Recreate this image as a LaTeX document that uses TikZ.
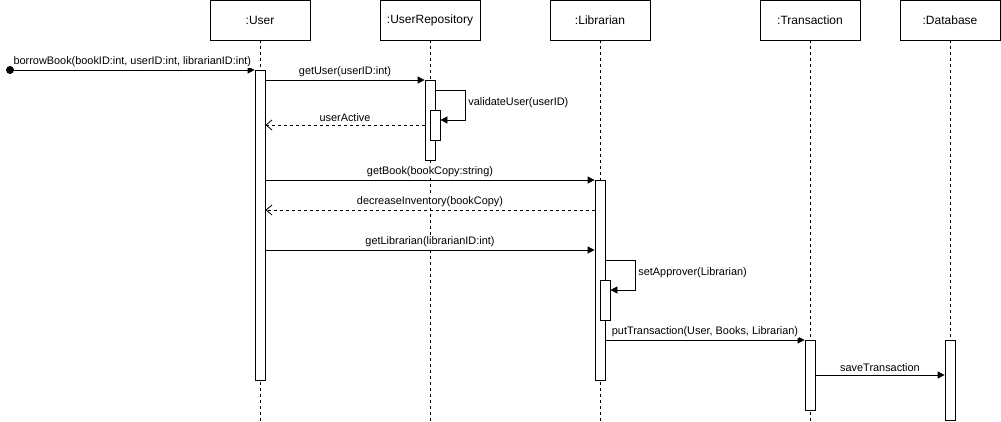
\documentclass[tikz,border=0pt]{standalone}
\usepackage{fontspec}
\setmainfont{Liberation Sans}
\usetikzlibrary{arrows.meta}
\begin{document}
\begin{tikzpicture}[x=1pt,y=-1pt,line width=0.8pt,
  head/.style={draw,fill=white,minimum width=100pt,minimum height=40pt,inner sep=0pt,font=\fontsize{12}{14}\selectfont},
  lifeline/.style={dash pattern=on 3pt off 3pt,line width=0.7pt},
  act/.style={draw,fill=white,minimum width=10pt,inner sep=0pt,anchor=north},
  sync/.style={-{Triangle[length=7pt,width=7pt]}},
  reply/.style={dash pattern=on 3pt off 3pt,-{Straight Barb[length=6pt,width=10pt]}},
  lbl/.style={font=\fontsize{10.9}{12}\selectfont,inner sep=1pt,fill=white},
  msg/.style={lbl,above,yshift=1.5pt}]
\useasboundingbox (0,0) rectangle (1001,422);

% lifeline heads
\node[head] (hU) at (260,20) {:User};
\node[head] (hR) at (430,20) {:UserRepository};
\node[head] (hL) at (600,20) {:Librarian};
\node[head] (hT) at (810,20) {:Transaction};
\node[head] (hD) at (950,20) {:Database};

% lifeline ends
\coordinate (eU) at (260,422);
\coordinate (eR) at (430,422);
\coordinate (eL) at (600,422);
\coordinate (eT) at (810,422);
\coordinate (eD) at (950,422);
\foreach \h/\e in {hU/eU,hR/eR,hL/eL,hT/eT,hD/eD}
  \draw[lifeline] (\h.south) -- (\e);

% activations
\node[act,minimum height=310pt] (aU) at (260,70) {};
\node[act,minimum height=80pt] (aR) at (430,80) {};
\node[act,minimum height=30pt] (aR2) at (435,110) {};
\node[act,minimum height=200pt] (aL) at (600,180) {};
\node[act,minimum height=40pt] (aL2) at (605,280) {};
\node[act,minimum height=70pt] (aT) at (810,340) {};
\node[act,minimum height=80pt] (aD) at (950,340) {};

% found message
\coordinate (start) at (10,70);
\fill (start) circle (4pt);
\draw[sync] (start) -- node[msg] {borrowBook(bookID:int, userID:int, librarianID:int)} (aU.north west);

\draw[sync] (aU.east |- 0,80) -- node[msg] {getUser(userID:int)} (aR.north west);

% self call on the repository
\coordinate (vA) at (465,90);
\coordinate (vB) at (465,120);
\draw[sync] (aR.east |- vA) -- (vA) -- (vB) -- (aR2.east |- vB);
\node[lbl,anchor=west] (vl) at (467,103) {validateUser(userID)};

\draw[reply] (aR.west |- 0,125) -- node[msg] {userActive} (aU.east |- 0,125);

\draw[sync] (aU.east |- 0,180) -- node[msg] {getBook(bookCopy:string)} (aL.north west);
\draw[reply] (aL.west |- 0,210) -- node[msg] {decreaseInventory(bookCopy)} (aU.east |- 0,210);
\draw[sync] (aU.east |- 0,250) -- node[msg] {getLibrarian(librarianID:int)} (aL.west |- 0,250);

% self call on the librarian
\coordinate (sA) at (635,260);
\coordinate (sB) at (635,290);
\draw[sync] (aL.east |- sA) -- (sA) -- (sB) -- (aL2.east |- sB);
\node[lbl,anchor=west] (sl) at (637,273) {setApprover(Librarian)};

\draw[sync] (aL.east |- 0,340) -- node[msg] {putTransaction(User, Books, Librarian)} (aT.north west);
\draw[sync] (aT.east |- 0,375) -- node[msg] {saveTransaction} (aD.west |- 0,375);
\end{tikzpicture}
\end{document}
